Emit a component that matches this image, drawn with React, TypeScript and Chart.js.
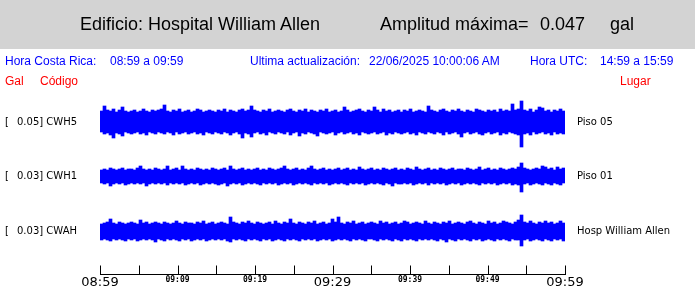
import React, { useEffect, useRef } from "react";
import { Chart, registerables } from "chart.js";

Chart.register(...registerables);

// Minutes after 08:59 local time for the axis ticks, and labels shown every 10 min
const tickMinutes = [0, 5, 10, 15, 20, 25, 30, 35, 40, 45, 50, 55, 60];
const tickLabels: Record<number, string> = {
  0: "08:59", 10: "09:09", 20: "09:19", 30: "09:29", 40: "09:39", 50: "09:49", 60: "09:59",
};
const bigTicks = [0, 30, 60];

// Stations
const stationScale = ["0.05", "0.03", "0.03"];
const stationCode = ["CWH5", "CWH1", "CWAH"];
const stationPlace = ["Piso 05", "Piso 01", "Hosp William Allen"];

// Envelope of each trace per time bin (155 bins over the hour), amplitude above / below the trace zero line
const cwh5Top = [
  11,16,12,11,13,10,12,15,11,10, 11,12,10,11,13,11,10,12,11,12, 13,17,11,10,12,11,13,10,11,12,
  10,11,13,12,10,11,12,11,10,12, 11,13,10,12,11,10,12,13,11,12, 16,12,11,10,12,11,13,10,11,12,
  11,10,12,13,11,10,12,11,13,10, 12,11,10,12,11,13,10,11,12,10, 11,15,12,10,11,12,13,11,10,12,
  11,15,12,10,13,11,12,10,11,12, 10,12,11,13,10,11,12,11,10,16, 12,11,10,12,13,11,10,12,11,13,
  11,10,12,11,10,13,12,11,10,12, 11,12,10,13,11,12,11,18,12,13, 21,12,11,13,10,12,15,14,11,12,
  10,12,11,13,11,
];
const cwh5Bottom = [
  10,12,11,13,16,11,12,14,10,11, 12,11,10,12,11,13,10,11,12,10, 11,12,10,11,13,10,12,11,10,12,
  11,10,12,11,13,10,11,12,10,11, 12,10,11,13,11,10,12,16,11,12, 15,11,10,12,11,13,10,11,12,10,
  11,12,10,13,11,10,14,11,12,10, 11,12,14,10,11,12,11,10,13,11, 10,12,11,10,12,11,13,10,11,12,
  11,10,12,11,10,13,11,12,10,11, 12,11,10,12,11,13,10,11,12,10, 11,12,10,11,13,10,12,11,10,12,
  15,11,10,12,11,10,12,13,11,10, 12,11,10,13,11,12,10,11,12,13, 25,12,11,13,10,12,11,10,12,11,
  13,10,12,11,12,
];
const cwh1Top = [
  6,7,6,8,7,6,7,8,6,7, 7,6,8,10,7,6,7,6,8,7, 6,7,10,6,7,8,6,10,7,6,
  7,6,8,7,6,7,6,8,7,6, 7,8,6,10,7,6,7,8,6,7, 6,7,8,6,7,6,8,7,6,7,
  8,10,7,6,7,8,6,7,6,8, 10,7,6,7,8,6,7,6,7,8, 6,7,8,6,7,6,9,7,6,7,
  8,6,7,6,8,7,6,7,8,6, 7,6,8,7,6,9,7,6,7,8, 6,7,6,8,7,6,7,8,6,7,
  7,6,8,7,6,7,9,6,7,8, 6,7,6,8,7,6,7,8,7,9, 13,8,7,6,7,8,7,10,9,7,
  8,6,9,7,8,
];
const cwh1Bottom = [
  7,8,7,10,8,7,8,7,9,8, 7,8,7,8,7,10,8,7,8,7, 8,7,9,7,8,7,8,7,9,8,
  7,8,7,9,8,7,8,7,8,9, 8,7,10,8,7,8,7,9,8,7, 8,7,8,9,7,8,7,8,7,9,
  8,7,8,7,9,8,7,8,7,8, 9,7,8,7,8,7,9,8,7,8, 7,8,9,7,8,7,8,7,9,8,
  7,8,7,8,9,7,8,10,7,8, 8,7,8,7,9,8,7,8,7,9, 7,8,7,8,7,9,8,7,8,7,
  9,8,7,8,7,8,9,7,8,7, 8,7,9,8,7,8,7,9,8,9, 16,8,7,9,8,7,8,9,7,8,
  9,7,8,9,7,
];
const cwahTop = [
  7,8,9,12,8,7,9,8,7,8, 9,8,7,11,8,9,7,8,9,8, 7,9,8,7,8,10,8,7,9,8,
  8,7,9,8,10,7,8,9,7,8, 9,8,7,14,9,8,7,9,8,10, 8,7,9,8,7,8,9,7,10,8,
  7,9,8,12,8,7,9,8,7,9, 8,10,7,8,9,7,8,12,9,14, 8,7,9,8,10,7,8,9,7,8,
  9,8,7,10,8,9,7,8,9,7, 8,10,9,7,8,9,8,7,10,8, 7,9,8,7,9,8,10,7,8,9,
  8,7,9,10,8,7,9,8,7,10, 8,9,7,8,10,9,8,7,9,11, 16,9,8,10,8,7,9,8,10,8,
  9,7,8,10,8,
];
const cwahBottom = [
  9,8,9,10,8,9,8,9,10,8, 9,8,10,9,8,9,8,9,11,8, 9,10,8,9,8,9,10,8,9,8,
  10,9,8,9,8,10,9,8,9,8, 9,8,10,11,8,9,8,9,10,8, 9,8,9,10,8,9,8,10,9,8,
  9,10,8,9,8,9,10,8,9,8, 9,8,10,9,8,9,8,10,9,8, 9,8,9,10,8,9,8,9,10,8,
  8,9,10,8,9,8,9,10,8,9, 10,8,9,8,9,10,8,9,8,9, 8,9,10,8,9,11,8,9,10,8,
  9,8,9,10,8,9,8,10,9,8, 9,10,8,9,8,9,10,8,9,9, 15,9,8,10,9,8,9,10,8,9,
  10,8,9,8,10,
];

const traceTops = [cwh5Top, cwh1Top, cwahTop];
const traceBottoms = [cwh5Bottom, cwh1Bottom, cwahBottom];

// layout (pixels)
const W = 695;
const H = 288;
const PLOT_LEFT = 100;
const PLOT_RIGHT = 565;
const PLOT_TOP = 95;
const AXIS_Y = 274;
const TRACE_CENTER_Y = [122, 176, 231];

const SANS = '"Liberation Sans", Arial, sans-serif';
const DEJAVU = '"DejaVu Sans", sans-serif';

const axisPlugin = {
  id: "seisAxis",
  afterDraw(chart: any) {
    const s = chart.scales.x2;
    const ctx = chart.ctx;
    const y = Math.round(chart.chartArea.bottom) + 0.5;
    ctx.save();
    ctx.strokeStyle = "#000";
    ctx.lineWidth = 1;
    ctx.beginPath();
    ctx.moveTo(Math.round(s.getPixelForValue(tickMinutes[0])), y);
    ctx.lineTo(Math.round(s.getPixelForValue(tickMinutes[tickMinutes.length - 1])) + 1, y);
    for (const t of s.ticks) {
      const x = Math.round(s.getPixelForValue(t.value)) + 0.5;
      ctx.moveTo(x, y);
      ctx.lineTo(x, y - 9);
    }
    ctx.stroke();
    ctx.restore();
  },
};

function ChartCanvas() {
  const ref = useRef<HTMLCanvasElement>(null);
  useEffect(() => {
    const canvas = ref.current!;
    const bins = cwh5Top.map((_, i) => String(i));
    const plotH = AXIS_Y - PLOT_TOP;
    const datasets = traceTops.map((tops, k) => {
      const zero = AXIS_Y - TRACE_CENTER_Y[k];
      const bots = traceBottoms[k];
      return {
        label: stationCode[k],
        data: tops.map((t, i) => [zero - bots[i], zero + t]),
        backgroundColor: "#0000ff",
        borderWidth: 0,
        barPercentage: 1,
        categoryPercentage: 1,
        grouped: false,
      };
    });
    const chart = new Chart(canvas, {
      type: "bar",
      data: { labels: bins, datasets: datasets as any },
      options: {
        animation: false,
        responsive: false,
        devicePixelRatio: 1,
        layout: { padding: { left: PLOT_LEFT, right: W - PLOT_RIGHT, top: PLOT_TOP, bottom: 0 } },
        plugins: { legend: { display: false }, tooltip: { enabled: false }, title: { display: false } },
        scales: {
          x: { type: "category", display: false, offset: true },
          y: { display: false, min: 0, max: plotH },
          x2: {
            type: "linear",
            axis: "x",
            position: "bottom",
            offset: false,
            min: 0,
            max: 60,
            grid: { display: false, drawTicks: false, offset: false },
            border: { display: false },
            afterTickToLabelConversion: (scale: any) => {
              scale.ticks = tickMinutes.map((v) => ({ value: v, label: tickLabels[v] ?? "" }));
            },
            afterFit: (scale: any) => {
              scale.height = H - AXIS_Y;
            },
            ticks: {
              autoSkip: false,
              maxRotation: 0,
              padding: 2,
              color: "#000",
              font: (ctx: any) =>
                bigTicks.includes(ctx.tick?.value)
                  ? { family: DEJAVU, size: 13, weight: "normal", lineHeight: 1 }
                  : { family: '"DejaVu Sans Mono", monospace', size: 8, weight: "bold", lineHeight: 1 },
            },
          } as any,
        },
      },
      plugins: [axisPlugin],
    });
    return () => chart.destroy();
  }, []);
  return <canvas ref={ref} width={W} height={H} style={{ position: "absolute", left: 0, top: 0, width: W, height: H }} />;
}

function T(props: { x: number; cy: number; size: number; color: string; family: string; children: React.ReactNode }) {
  return (
    <span
      style={{
        position: "absolute",
        left: props.x,
        top: props.cy - props.size / 2,
        height: props.size,
        lineHeight: props.size + "px",
        fontSize: props.size,
        fontFamily: props.family,
        color: props.color,
        whiteSpace: "pre",
      }}
    >
      {props.children}
    </span>
  );
}

export default function App() {
  return (
    <div style={{ position: "absolute", left: 0, top: 0, width: W, height: H, background: "#fff", overflow: "hidden" }}>
      <div style={{ position: "absolute", left: 0, top: 0, width: W, height: 49, background: "#d3d3d3" }} />
      <ChartCanvas />
      <T x={80} cy={24} size={18} color="#000" family={SANS}>Edificio: Hospital William Allen</T>
      <T x={380} cy={24} size={18} color="#000" family={SANS}>Amplitud máxima=</T>
      <T x={540} cy={24} size={18} color="#000" family={SANS}>0.047</T>
      <T x={610} cy={24} size={18} color="#000" family={SANS}>gal</T>

      <T x={5} cy={61} size={12} color="#0000ff" family={SANS}>Hora Costa Rica:</T>
      <T x={110} cy={61} size={12} color="#0000ff" family={SANS}>08:59 a 09:59</T>
      <T x={250} cy={61} size={12} color="#0000ff" family={SANS}>Ultima actualización:</T>
      <T x={369} cy={61} size={12} color="#0000ff" family={SANS}>22/06/2025 10:00:06 AM</T>
      <T x={530} cy={61} size={12} color="#0000ff" family={SANS}>Hora UTC:</T>
      <T x={600} cy={61} size={12} color="#0000ff" family={SANS}>14:59 a 15:59</T>

      <T x={5} cy={81} size={12} color="#ff0000" family={SANS}>Gal</T>
      <T x={40} cy={81} size={12} color="#ff0000" family={SANS}>Código</T>
      <T x={620} cy={81} size={12} color="#ff0000" family={SANS}>Lugar</T>

      {stationCode.map((c, k) => (
        <React.Fragment key={c}>
          <T x={5} cy={TRACE_CENTER_Y[k]} size={10} color="#000" family={DEJAVU}>[</T>
          <T x={17} cy={TRACE_CENTER_Y[k]} size={10} color="#000" family={DEJAVU}>{stationScale[k] + "] " + c}</T>
          <T x={577} cy={TRACE_CENTER_Y[k]} size={10} color="#000" family={DEJAVU}>{stationPlace[k]}</T>
        </React.Fragment>
      ))}
    </div>
  );
}
